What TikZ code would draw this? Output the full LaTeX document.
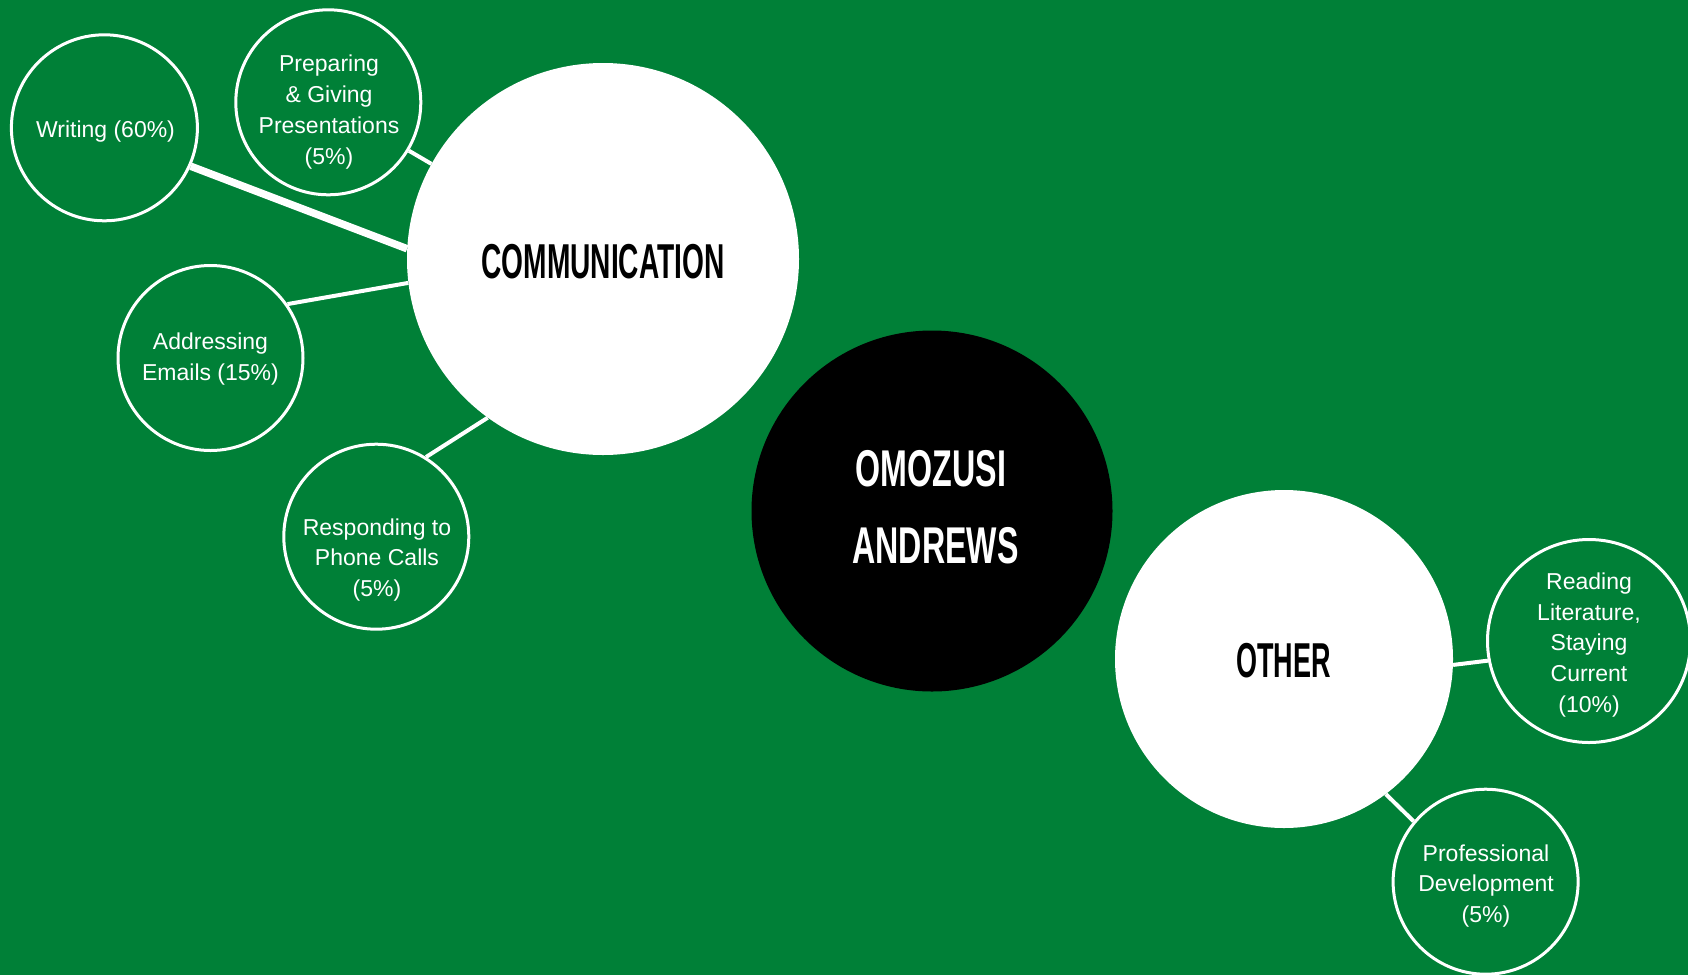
\documentclass[tikz,border=0pt]{standalone}
\usepackage{fontspec}
\usepackage{graphicx}
\setmainfont{Liberation Sans}
\newfontfamily\headfont{Liberation Sans}
\definecolor{bg}{HTML}{008037}
\tikzset{
  sub/.style={circle, draw=white, line width=3pt, fill=bg, inner sep=0pt, minimum size=#1},
  big/.style={circle, fill=#1, inner sep=0pt, draw=none},
  smalltxt/.style={text=white, align=center, inner sep=0pt, font=\fontsize{23}{30.7}\selectfont},
  headtxt/.style={inner sep=0pt, align=center, font=\headfont\bfseries\fontsize{49}{49}\selectfont},
  link/.style={draw=white, line width=4pt},
  thicklink/.style={draw=white, line width=7.5pt}
}
\begin{document}
\begin{tikzpicture}[x=1pt,y=-1pt]
\fill[bg] (0,0) rectangle (1688,975);
\useasboundingbox (0,0) rectangle (1688,975);

% main circles
\node[big=white, minimum size=392pt] (comm) at (603,259) {};
\node[big=black, minimum size=361pt] (name) at (932,511) {};
\node[big=white, minimum size=338pt] (other) at (1284,659) {};

% sub circles
\node[sub=186pt] (w) at (104.4,127.8) {};
\node[sub=185pt] (p) at (328.3,102.3) {};
\node[sub=185pt] (a) at (210.5,358) {};
\node[sub=185pt] (r) at (376.3,536.7) {};
\node[sub=203pt] (rd) at (1589,641) {};
\node[sub=185pt] (pd) at (1485.6,881.7) {};

% connectors
\draw[thicklink] (w.-24.3) -- (comm.177.8);
\draw[link] (p.-31.5) -- (comm.151.2);
\draw[link] (a.35.5) -- (comm.187);
\draw[link] (r.58.3) -- (comm.234.8);
\draw[link] (other.-2.5) -- (rd.191.7);
\draw[link] (other.-53.2) -- (pd.140.5);

% titles
\node[headtxt] (commT) at (603,261.5) {\scalebox{0.574}[1]{COMMUNICATION}};
\node[headtxt, text=white, font=\headfont\bfseries\fontsize{51.7}{77}\selectfont] (nameT) at (931,507) {\scalebox{0.623}[1]{OMOZUSI}\\\hspace*{9pt}\scalebox{0.622}[1]{ANDREWS}};
\node[headtxt] (otherT) at (1283.5,660.5) {\scalebox{0.551}[1]{OTHER}};

% sub texts
\node[smalltxt] (wT) at (105.5,132) {Writing (60\%)};
\node[smalltxt] (pT) at (329,112) {Preparing\\\& Giving\\Presentations\\(5\%)};
\node[smalltxt] (aT) at (210.5,359) {Addressing\\Emails (15\%)};
\node[smalltxt] (rT) at (377,560) {Responding to\\Phone Calls\\(5\%)};
\node[smalltxt] (rdT) at (1589,645) {Reading\\Literature,\\Staying\\Current\\(10\%)};
\node[smalltxt] (pdT) at (1486,886) {Professional\\Development\\(5\%)};
\end{tikzpicture}
\end{document}
